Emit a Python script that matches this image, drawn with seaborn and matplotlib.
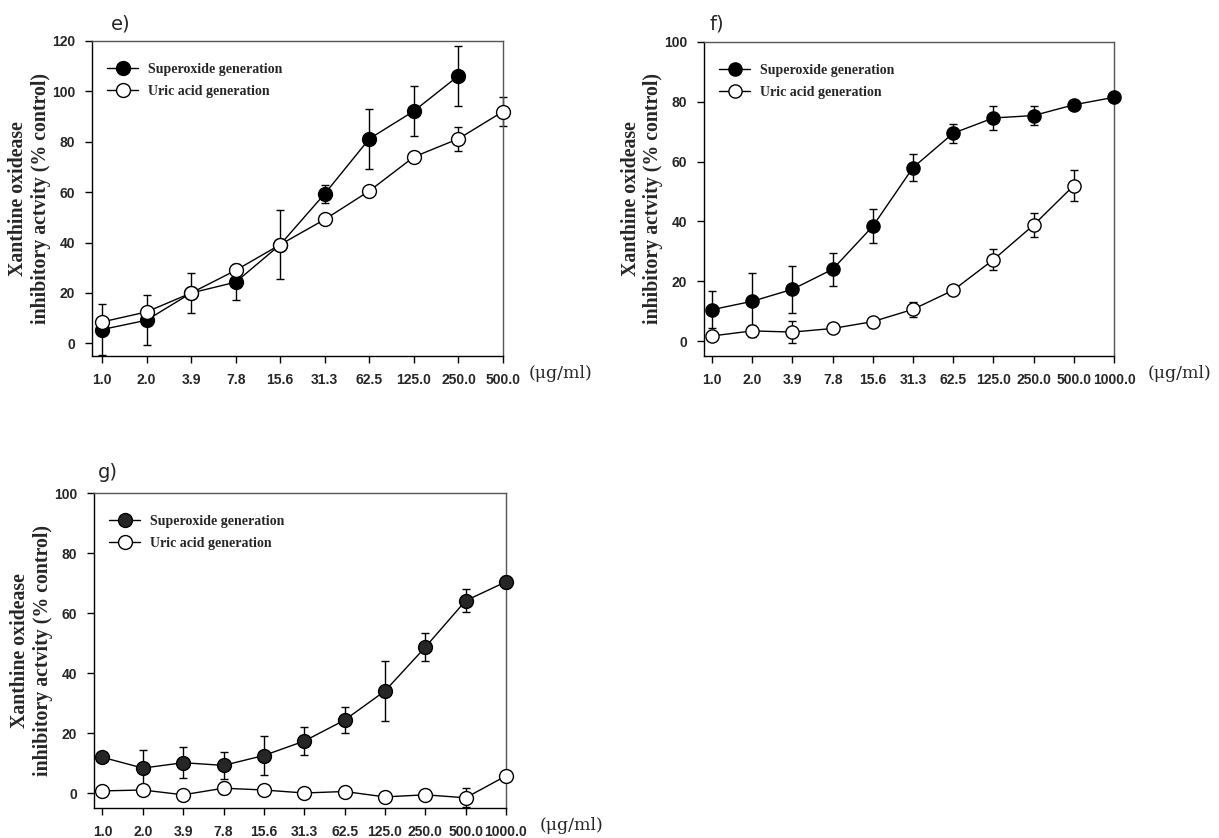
import numpy as np
import pandas as pd
import matplotlib
matplotlib.use("Agg")
import matplotlib.pyplot as plt
from matplotlib.lines import Line2D
import seaborn as sns

# Concentrations (ug/ml) used as categorical tick labels
conc_e = ["1.0", "2.0", "3.9", "7.8", "15.6", "31.3", "62.5", "125.0", "250.0", "500.0"]
conc_fg = ["1.0", "2.0", "3.9", "7.8", "15.6", "31.3", "62.5", "125.0", "250.0", "500.0", "1000.0"]

# Panel e
e_super = [5.5, 9.2, 20.0, 24.3, 39.2, 59.4, 81.2, 92.2, 106.2]
e_super_sd = [10.0, 10.0, 7.8, 7.2, 13.6, 3.5, 12.0, 10.0, 12.0]
e_uric = [8.5, 12.5, 20.0, 29.0, 39.2, 49.2, 60.5, 74.0, 81.2, 92.0]
e_uric_sd = [0.8, 0.8, 0.8, 0.8, 0.8, 0.8, 0.8, 0.8, 4.8, 5.6]

# Panel f
f_super = [10.5, 13.3, 17.3, 24.0, 38.4, 58.0, 69.5, 74.6, 75.4, 79.0, 81.5]
f_super_sd = [6.3, 9.6, 7.8, 5.6, 5.6, 4.5, 3.2, 3.9, 3.2, 1.5, 1.0]
f_uric = [1.7, 3.4, 3.0, 4.2, 6.5, 10.6, 17.0, 27.2, 38.8, 52.0]
f_uric_sd = [1.0, 2.0, 3.8, 1.0, 1.0, 2.5, 1.0, 3.6, 4.1, 5.2]

# Panel g
g_super = [11.9, 8.3, 10.1, 9.2, 12.5, 17.3, 24.3, 34.0, 48.6, 64.1, 70.4]
g_super_sd = [1.5, 6.2, 5.2, 4.5, 6.5, 4.6, 4.4, 10.0, 4.6, 3.9, 2.0]
g_uric = [0.7, 1.0, -0.6, 1.6, 1.0, 0.0, 0.5, -1.3, -0.6, -1.6, 5.7]
g_uric_sd = [1.0, 1.0, 1.0, 2.0, 1.0, 1.0, 1.0, 1.0, 1.0, 3.2, 1.0]

SUPER = "Superoxide generation"
URIC = "Uric acid generation"
YLABEL = "Xanthine oxidease\ninhibitory actvity (% control)"
UNIT = "(\u03bcg/ml)"

sns.set_style("ticks")
plt.rcParams["font.family"] = ["Liberation Sans", "DejaVu Sans"]

W, H = 1219, 838
fig = plt.figure(figsize=(W / 100, H / 100), dpi=100)


def add_axes_px(left, top, right, bottom):
    return fig.add_axes([left / W, 1 - bottom / H, (right - left) / W, (bottom - top) / H])


def draw_panel(ax, labels, series, ymax, ms, x0, unit_dx):
    for vals, sd, face in series:
        df = pd.DataFrame({"pos": np.arange(len(vals)), "value": vals, "sd": sd})
        ax.errorbar(df["pos"], df["value"], yerr=df["sd"], fmt="none", ecolor="black",
                    elinewidth=1, capsize=3, capthick=1, zorder=2, clip_on=False)
        sns.lineplot(data=df, x="pos", y="value", ax=ax, color="black", lw=1,
                     marker="o", markersize=ms, markerfacecolor=face,
                     markeredgecolor="black", markeredgewidth=1, errorbar=None,
                     sort=False, zorder=3, clip_on=False)
    n = len(labels)
    ax.set_xlim(x0, n - 1)
    ax.set_ylim(-5, ymax)
    ax.set_xticks(np.arange(n))
    ax.set_xticklabels(labels, fontweight="bold", fontsize=10)
    ax.set_yticks(np.arange(0, ymax + 1, 20))
    ax.set_yticklabels([str(v) for v in range(0, ymax + 1, 20)], fontweight="bold", fontsize=10)
    ax.tick_params(direction="out", length=5, width=1, pad=7, color="black")
    ax.set_xlabel("")
    ax.set_ylabel(YLABEL, family="Liberation Serif", fontweight="bold",
                  fontsize=14.3, va="center", linespacing=1.15)
    ax.yaxis.set_label_coords(-0.152, 0.5)
    for side, sp in ax.spines.items():
        sp.set_visible(True)
        sp.set_linewidth(1)
        sp.set_color("black" if side in ("left", "bottom") else "#555555")
    handles = [
        Line2D([], [], color="black", lw=1, marker="o", markersize=ms,
               markerfacecolor=series[0][2], markeredgecolor="black"),
        Line2D([], [], color="black", lw=1, marker="o", markersize=ms,
               markerfacecolor="white", markeredgecolor="black"),
    ]
    ax.legend(handles, [SUPER, URIC], loc="upper left", bbox_to_anchor=(0.037, 0.93),
              frameon=False, borderpad=0, borderaxespad=0, handlelength=2.23,
              handletextpad=0.72, labelspacing=0.62,
              prop={"family": "Liberation Serif", "weight": "bold", "size": 10})
    ax.annotate(UNIT, xy=(1, 0), xycoords="axes fraction", xytext=(unit_dx, -12.5),
                textcoords="offset points", ha="left", va="center",
                family="DejaVu Serif", fontsize=12.5)


ax_e = add_axes_px(92, 41, 503, 356)
draw_panel(ax_e, conc_e, [(e_super, e_super_sd, "black"), (e_uric, e_uric_sd, "white")],
           120, 10, -0.225, 18.7)

ax_f = add_axes_px(704, 42, 1114, 356)
draw_panel(ax_f, conc_fg, [(f_super, f_super_sd, "black"), (f_uric, f_uric_sd, "white")],
           100, 9.5, -0.2, 24.5)

ax_g = add_axes_px(94, 493, 506, 808)
draw_panel(ax_g, conc_fg, [(g_super, g_super_sd, "#262626"), (g_uric, g_uric_sd, "white")],
           100, 10, -0.21, 24.5)

for x, y, t in [(111, 14, "e)"), (709, 14, "f)"), (98, 463, "g)")]:
    fig.text(x / W, 1 - y / H, t, fontsize=14, va="top", ha="left", family="DejaVu Sans")

fig.savefig("out.png", dpi=100, facecolor="white")
